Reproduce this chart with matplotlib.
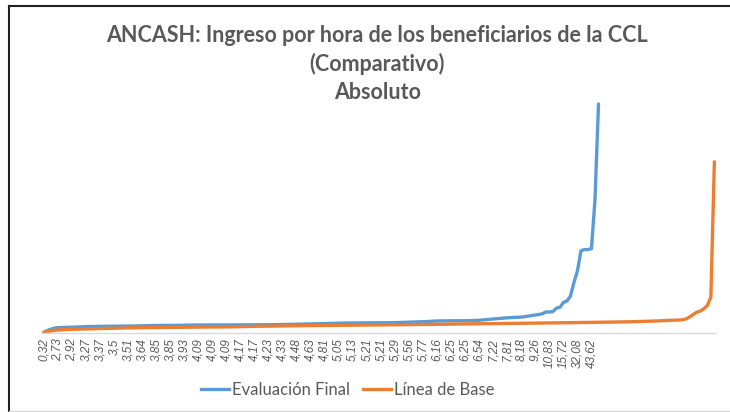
import numpy as np
import matplotlib
matplotlib.use('Agg')
import matplotlib.pyplot as plt
from matplotlib.lines import Line2D

plt.rcParams['font.family'] = ['Lato', 'DejaVu Sans']

# sorted hourly income, final evaluation (blue)
evaluacion_final = [
    0.32, 1.2, 1.9, 2.45, 2.73, 2.78, 2.82, 2.88, 2.92, 3.0, 3.1, 3.2, 3.27,
    3.3, 3.33, 3.35, 3.37, 3.4, 3.45, 3.5, 3.5, 3.5, 3.5, 3.51, 3.51,
    3.55, 3.58, 3.6, 3.64, 3.7, 3.75, 3.8, 3.85, 3.85, 3.85, 3.85, 3.85,
    3.88, 3.9, 3.92, 3.93, 4.0, 4.05, 4.09, 4.09, 4.09, 4.09, 4.09, 4.09,
    4.09, 4.09, 4.09, 4.09, 4.1, 4.12, 4.15, 4.17, 4.17, 4.17, 4.17, 4.17,
    4.2, 4.21, 4.22, 4.23, 4.25, 4.28, 4.3, 4.33, 4.36, 4.4, 4.44, 4.48,
    4.5, 4.55, 4.6, 4.63, 4.67, 4.71, 4.76, 4.81, 4.86, 4.92, 5.0, 5.05,
    5.08, 5.1, 5.12, 5.13, 5.17, 5.2, 5.21, 5.21, 5.21, 5.21, 5.21, 5.21,
    5.24, 5.26, 5.28, 5.29, 5.36, 5.42, 5.5, 5.56, 5.6, 5.66, 5.71, 5.77,
    5.86, 5.96, 6.06, 6.16, 6.2, 6.23, 6.25, 6.25, 6.25, 6.25, 6.25, 6.25,
    6.3, 6.38, 6.46, 6.54, 6.7, 6.86, 7.04, 7.22, 7.35, 7.5, 7.66, 7.81,
    7.9, 8.0, 8.1, 8.18, 8.4, 8.7, 9.0, 9.26, 9.5, 9.9, 10.8, 10.83,
    11.0, 12.8, 13.2, 15.72, 16.5, 19.0, 26.0, 32.08, 42.5, 43.1, 43.1, 43.62,
    69.0, 118.4,
]

# sorted hourly income, baseline (orange)
linea_base = [
    0.2, 0.7, 1.0, 1.3, 1.5, 1.6, 1.7, 1.8,
    1.85, 1.9, 1.95, 2.0, 2.05, 2.1, 2.15, 2.2,
    2.25, 2.3, 2.35, 2.4, 2.45, 2.5, 2.5, 2.55,
    2.6, 2.6, 2.62, 2.65, 2.68, 2.7, 2.72, 2.75,
    2.78, 2.8, 2.8, 2.82, 2.85, 2.87, 2.9, 2.9,
    2.92, 2.95, 2.95, 2.97, 3.0, 3.0, 3.0, 3.02,
    3.05, 3.05, 3.08, 3.1, 3.1, 3.12, 3.15, 3.2,
    3.25, 3.3, 3.33, 3.36, 3.4, 3.42, 3.45, 3.48,
    3.5, 3.52, 3.55, 3.57, 3.6, 3.62, 3.65, 3.68,
    3.7, 3.72, 3.74, 3.76, 3.78, 3.8, 3.8, 3.82,
    3.84, 3.86, 3.88, 3.9, 3.92, 3.94, 3.96, 3.98,
    4.0, 4.0, 4.02, 4.04, 4.06, 4.08, 4.1, 4.1,
    4.12, 4.14, 4.16, 4.18, 4.2, 4.2, 4.22, 4.24,
    4.26, 4.28, 4.3, 4.3, 4.32, 4.34, 4.36, 4.38,
    4.4, 4.42, 4.44, 4.46, 4.48, 4.5, 4.52, 4.55,
    4.58, 4.6, 4.62, 4.65, 4.68, 4.7, 4.72, 4.75,
    4.78, 4.8, 4.82, 4.85, 4.88, 4.9, 4.92, 4.95,
    4.98, 5.0, 5.0, 5.02, 5.05, 5.08, 5.1, 5.12,
    5.15, 5.18, 5.2, 5.22, 5.25, 5.28, 5.3, 5.32,
    5.35, 5.38, 5.4, 5.42, 5.45, 5.48, 5.5, 5.52,
    5.55, 5.58, 5.6, 5.62, 5.65, 5.68, 5.7, 5.75,
    5.8, 5.85, 5.9, 5.95, 6.0, 6.05, 6.1, 6.2,
    6.3, 6.4, 6.5, 6.55, 6.6, 6.65, 6.8, 7.3,
    8.3, 9.5, 10.8, 11.3, 12.5, 14.2, 18.5, 88.5,
]

# category labels, Excel shows every 4th one
etiquetas = ['0,32', '2,73', '2,92', '3,27', '3,37', '3,5', '3,51', '3,64',
             '3,85', '3,85', '3,93', '4,09', '4,09', '4,09', '4,17', '4,17',
             '4,23', '4,33', '4,48', '4,63', '4,81', '5,05', '5,13', '5,21',
             '5,21', '5,29', '5,56', '5,77', '6,16', '6,25', '6,25', '6,54',
             '7,22', '7,81', '8,18', '9,26', '10,83', '15,72', '32,08', '43,62']
paso = 4

azul = '#5B9BD5'
naranja = '#ED7D31'
gris = '#595959'

fig = plt.figure(figsize=(7.3, 4.12), dpi=100)
ax = fig.add_axes([0.0575, 0.192, 0.9235, 0.563])

ax.plot(np.arange(len(evaluacion_final)), evaluacion_final, color=azul, lw=2.4,
        solid_capstyle='round', solid_joinstyle='round')
ax.plot(np.arange(len(linea_base)), linea_base, color=naranja, lw=2.4,
        solid_capstyle='round', solid_joinstyle='round')

ax.set_xlim(-0.5, len(linea_base) - 0.5)
ax.set_ylim(0, 120)
ax.set_yticks([])
ax.set_xticks(np.arange(len(etiquetas)) * paso)
ax.set_xticklabels(etiquetas, rotation=90, fontsize=8.5, style='italic',
                   family='Liberation Sans', color=gris)
ax.tick_params(axis='x', length=0, pad=4)
for s in ['top', 'right', 'left']:
    ax.spines[s].set_visible(False)
ax.spines['bottom'].set_color('#D9D9D9')
ax.spines['bottom'].set_linewidth(1)

titulo = ['ANCASH: Ingreso por hora de los beneficiarios de la CCL',
          '(Comparativo)', 'Absoluto']
for i, t in enumerate(titulo):
    fig.text(0.517, 0.915 - i * 0.07, t, ha='center', va='center',
             fontsize=15.5, fontweight='bold', color=gris)

handles = [Line2D([], [], color=azul, lw=2.4), Line2D([], [], color=naranja, lw=2.4)]
fig.legend(handles, ['Evaluación Final', 'Línea de Base'], loc='center',
           bbox_to_anchor=(0.476, 0.053), ncol=2, frameon=False, fontsize=12,
           labelcolor=gris, handlelength=1.7, handletextpad=0.15, columnspacing=0.8)

# chart frame as in the screenshot
fig.add_artist(Line2D([0.012, 1.0], [0.985, 0.985], color='#222222', lw=1.5))
fig.add_artist(Line2D([0.012, 0.012], [0.0, 0.985], color='#222222', lw=1.5))
fig.add_artist(Line2D([0.012, 1.0], [0.003, 0.003], color='#D9D9D9', lw=1))

fig.savefig('out.png', dpi=100)
